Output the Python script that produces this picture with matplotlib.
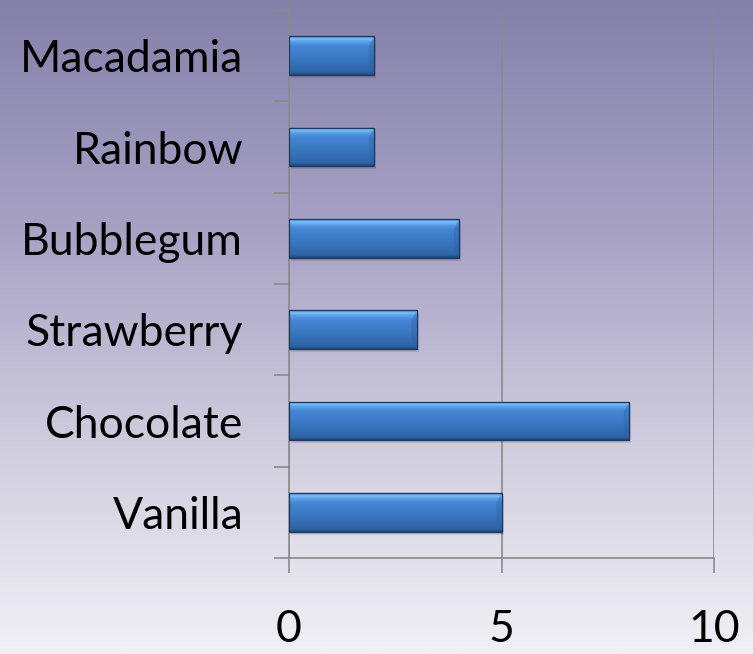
import numpy as np
import matplotlib
matplotlib.use("Agg")
import matplotlib.pyplot as plt
from matplotlib.colors import LinearSegmentedColormap

categories = ["Vanilla", "Chocolate", "Strawberry", "Bubblegum", "Rainbow", "Macadamia"]
values = [5, 8, 3, 4, 2, 2]
xticks = [0, 5, 10]
xticklabels = ["0", "5", "10"]

plt.rcParams['font.family'] = ['Lato', 'DejaVu Sans']

fig = plt.figure(figsize=(7.53, 6.54), dpi=100)

# background gradient
bg = fig.add_axes([0, 0, 1, 1], zorder=-10)
bg.set_axis_off()
bg_cmap = LinearSegmentedColormap.from_list(
    "bg", [(0.0, "#8480aa"), (0.35, "#a7a2c4"), (0.7, "#d2cfe0"), (1.0, "#f1f0f5")])
grad = np.linspace(0, 1, 256).reshape(-1, 1)
bg.imshow(grad, aspect="auto", cmap=bg_cmap, extent=[0, 1, 0, 1], origin="upper")
bg.set_xlim(0, 1); bg.set_ylim(0, 1)

ax = fig.add_axes([289/753, 1 - 558/654, (714-289)/753, (558-10)/654])
ax.patch.set_alpha(0)

ypos = np.arange(len(categories))
h = 0.42
bars = ax.barh(ypos, values, height=h, color="#3b78c2", edgecolor="#1c3a63",
               linewidth=0.8, zorder=3)

# shadows
ax.barh(ypos - 0.035, values, height=h, left=0.05, color="#000000", alpha=0.10,
        linewidth=0, zorder=2)

bar_cmap = LinearSegmentedColormap.from_list(
    "bar", [(0.0, "#1f4575"), (0.07, "#2f63a6"), (0.45, "#3b79c4"), (0.75, "#4486d2"),
            (0.87, "#5ea3ea"), (0.93, "#7dc0f9"), (1.0, "#4184d0")])
g = np.linspace(0, 1, 128).reshape(-1, 1)
for b in bars:
    x0, y0 = b.get_x(), b.get_y()
    w, hh = b.get_width(), b.get_height()
    im = ax.imshow(g, aspect="auto", cmap=bar_cmap, origin="lower",
                   extent=[x0, x0 + w, y0, y0 + hh], zorder=3.5)
    im.set_clip_path(b)
    # right bevel
    ax.fill([x0 + w - 0.12, x0 + w, x0 + w, x0 + w - 0.12],
            [y0 + hh * 0.25, y0, y0 + hh, y0 + hh * 0.75],
            color="#2d5f9c", alpha=0.35, zorder=3.6, linewidth=0)
    ax.add_patch(plt.Rectangle((x0, y0), w, hh, fill=False, edgecolor="#1c3a63",
                               linewidth=0.9, zorder=3.7))

ax.set_xlim(0, 10)
ax.set_ylim(-0.5, len(categories) - 0.5)
ax.set_xticks(xticks)
ax.set_xticklabels(xticklabels)
ax.set_yticks(np.arange(-0.5, len(categories), 1.0), minor=False)
ax.set_yticklabels([])
ax.set_yticks(ypos, minor=True)
ax.set_yticklabels(categories, minor=True)
ax.tick_params(axis="y", which="major", length=11, width=1.2, color="#8a8a8a", direction="out")
ax.tick_params(axis="y", which="minor", length=0, pad=33, labelsize=32)
ax.tick_params(axis="x", length=11, width=1.2, color="#8a8a8a", direction="out",
               pad=26, labelsize=32)
ax.xaxis.grid(True, color="#8a8a8a", linewidth=1.2, zorder=1)
ax.set_axisbelow(True)
for s in ["top", "right"]:
    ax.spines[s].set_visible(False)
for s in ["left", "bottom"]:
    ax.spines[s].set_color("#8a8a8a")
    ax.spines[s].set_linewidth(1.2)

fig.savefig("out.png", dpi=100)
